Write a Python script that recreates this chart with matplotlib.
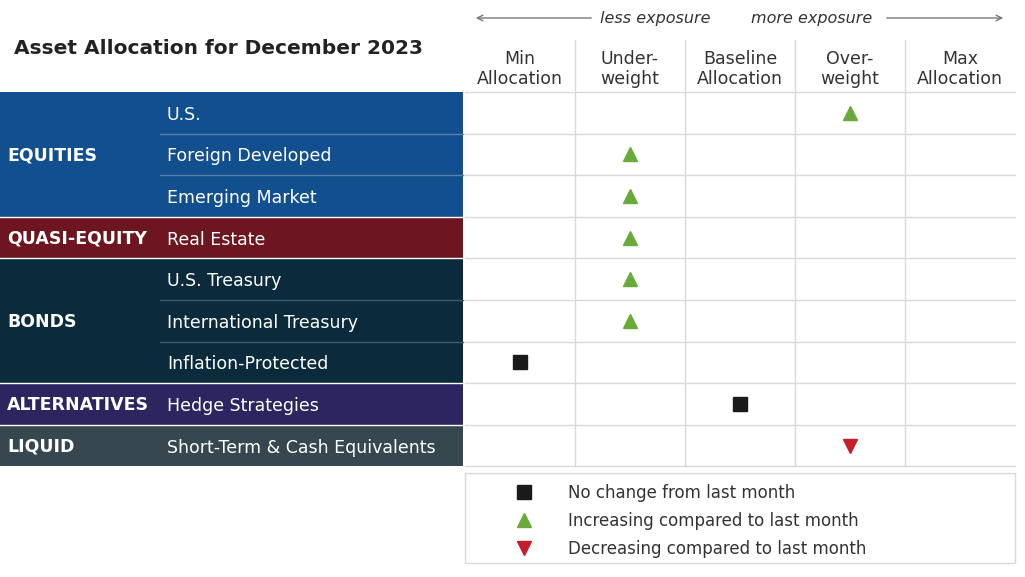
import matplotlib
matplotlib.use("Agg")
import matplotlib.pyplot as plt
from matplotlib.patches import Rectangle

groups = ["EQUITIES", "QUASI-EQUITY", "BONDS", "ALTERNATIVES", "LIQUID"]
group_sizes = [3, 1, 3, 1, 1]
group_colors = ["#114f8f", "#6d1621", "#0b2b3c", "#2c2560", "#37474f"]
assets = ["U.S.", "Foreign Developed", "Emerging Market", "Real Estate", "U.S. Treasury",
          "International Treasury", "Inflation-Protected", "Hedge Strategies",
          "Short-Term & Cash Equivalents"]
columns = ["Min\nAllocation", "Under-\nweight", "Baseline\nAllocation", "Over-\nweight", "Max\nAllocation"]
positions = [3, 1, 1, 1, 1, 1, 0, 2, 3]
signals = ["up", "up", "up", "up", "up", "up", "same", "same", "down"]
legend_labels = ["No change from last month", "Increasing compared to last month",
                 "Decreasing compared to last month"]

W, H = 1025, 577
plt.rcParams["font.family"] = "DejaVu Sans"
fig = plt.figure(figsize=(W / 100, H / 100), dpi=100)
ax = fig.add_axes([0, 0, 1, 1])
ax.set_xlim(0, W); ax.set_ylim(H, 0); ax.axis("off")

top, rh = 92, 41.6
gx0, cw = 465, 110
grid = "#d9d9d9"
style = {"up": ("^", "#6aaa3a", 10), "down": ("v", "#c41e2a", 10), "same": ("s", "#1a1a1a", 10)}

ax.text(14, 49, "Asset Allocation for December 2023", fontsize=14.5, fontweight="bold",
        color="#222222", va="center")
ax.annotate("", xy=(473, 18), xytext=(594, 18),
            arrowprops=dict(arrowstyle="->", color="#777777", lw=1))
ax.annotate("", xy=(1006, 18), xytext=(884, 18),
            arrowprops=dict(arrowstyle="->", color="#777777", lw=1))
ax.text(655, 19, "less exposure", style="italic", fontsize=11.5, ha="center", va="center", color="#333333")
ax.text(812, 19, "more exposure", style="italic", fontsize=11.5, ha="center", va="center", color="#333333")

for i, c in enumerate(columns):
    ax.text(gx0 + cw * (i + 0.5), 69, c, fontsize=12.5, ha="center", va="center",
            color="#333333", linespacing=1.2)
for i in range(1, 5):
    ax.plot([gx0 + cw * i] * 2, [40, top + rh * len(assets)], color=grid, lw=1)
for r in range(len(assets) + 1):
    ax.plot([gx0, gx0 + 5 * cw], [top + rh * r] * 2, color=grid, lw=1)

r = 0
for g, n, col in zip(groups, group_sizes, group_colors):
    ax.add_patch(Rectangle((0, top + rh * r), 463, rh * n, color=col, lw=0))
    ax.text(7, top + rh * (r + n / 2) + 1, g, fontsize=12.5, fontweight="bold", color="white", va="center")
    for k in range(1, n):
        ax.plot([160, 463], [top + rh * (r + k)] * 2, color="#5a7fa8" if g == "EQUITIES" else "#3c5a68", lw=1)
    if r > 0:
        ax.plot([0, 463], [top + rh * r] * 2, color="white", lw=1)
    r += n

for i, (a, p, s) in enumerate(zip(assets, positions, signals)):
    y = top + rh * (i + 0.5)
    ax.text(167, y + 2, a, fontsize=12.5, color="white", va="center")
    m, c, ms = style[s]
    ax.plot(gx0 + cw * (p + 0.5), y, marker=m, color=c, ms=ms, ls="none")

ax.add_patch(Rectangle((465, 473), 550, 90, fill=False, ec=grid, lw=1))
for k, (lab, s) in enumerate(zip(legend_labels, ["same", "up", "down"])):
    y = 492 + 28 * k
    m, c, ms = style[s]
    ax.plot(524, y, marker=m, color=c, ms=ms, ls="none")
    ax.text(568, y + 1, lab, fontsize=12, color="#333333", va="center")

fig.savefig("out.png", dpi=100)
